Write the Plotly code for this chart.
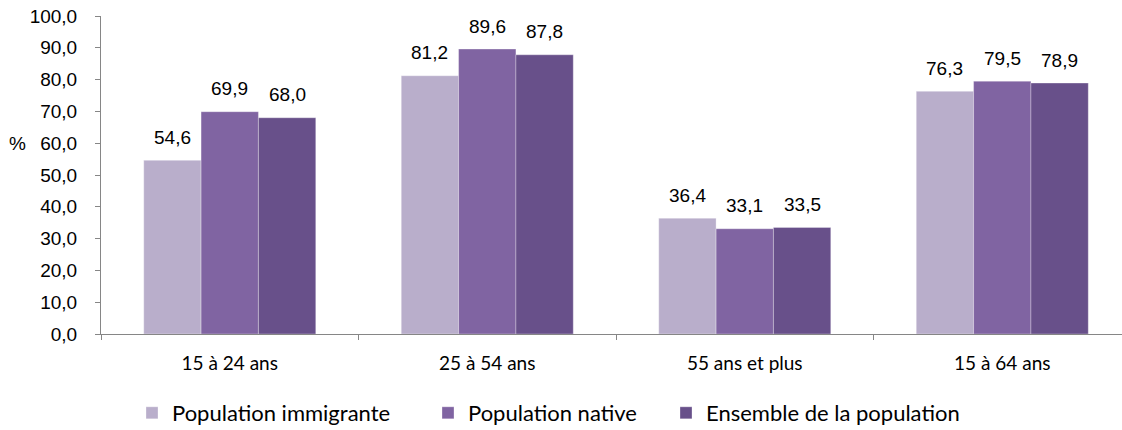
import plotly.graph_objects as go

categories = ["15 à 24 ans", "25 à 54 ans", "55 ans et plus", "15 à 64 ans"]
series_names = ["Population immigrante", "Population native", "Ensemble de la population"]
immigrante = [54.6, 81.2, 36.4, 76.3]
native = [69.9, 89.6, 33.1, 79.5]
ensemble = [68.0, 87.8, 33.5, 78.9]
colors = ["#B9AECB", "#8064A2", "#68508A"]
tick_vals = [0, 10, 20, 30, 40, 50, 60, 70, 80, 90, 100]
tick_text = ["0,0", "10,0", "20,0", "30,0", "40,0", "50,0", "60,0", "70,0", "80,0", "90,0", "100,0"]

W, H = 1122, 430
BARGAP = 0.332
n_series = 3
bar_w = (1 - BARGAP) / n_series
legend_names = ["legend", "legend2", "legend3"]
legend_text_px = [172, 468, 706]  # where each legend label starts

fig = go.Figure()
all_series = [immigrante, native, ensemble]
for k, (name, vals, col) in enumerate(zip(series_names, all_series, colors)):
    fig.add_trace(go.Bar(
        x=categories, y=vals, name=name, legend=legend_names[k],
        marker=dict(color=col, line=dict(color="rgba(255,255,255,0.5)", width=0.6)),
        cliponaxis=False, hoverinfo="skip",
    ))
    off = (k - (n_series - 1) / 2) * bar_w
    for i, v in enumerate(vals):
        fig.add_annotation(
            x=i + off, y=v, xref="x", yref="y",
            text=f"{v:.1f}".replace(".", ","),
            showarrow=False, yanchor="middle", yshift=23,
            font=dict(family="Liberation Sans, Arial", size=19, color="#000"),
        )

legend_style = dict(orientation="h", xref="container", yref="container",
                    xanchor="left", yanchor="middle", y=1 - 413 / H,
                    font=dict(family="Lato, Carlito, Calibri", size=22, color="#000"),
                    itemwidth=30, bgcolor="rgba(0,0,0,0)")
legends = {}
for k, ln in enumerate(legend_names):
    legends[ln] = dict(legend_style, x=(legend_text_px[k] - 40) / W)

fig.update_layout(
    width=W, height=H,
    margin=dict(l=101, r=0, t=16, b=96, autoexpand=False),
    paper_bgcolor="white", plot_bgcolor="white",
    barmode="group", bargap=BARGAP, bargroupgap=0,
    showlegend=True,
    **legends,
)
fig.update_yaxes(
    range=[0, 100], tickvals=tick_vals, ticktext=tick_text, automargin=False,
    showgrid=False, zeroline=False, showline=True, linecolor="#868686", linewidth=1,
    ticks="outside", ticklen=5, tickcolor="#868686", ticklabelstandoff=14,
    tickfont=dict(family="Liberation Sans, Arial", size=19, color="#000"),
)
fig.update_xaxes(
    range=[-0.5, 3.465], automargin=False,
    showline=True, linecolor="#868686", linewidth=1,
    ticks="outside", ticklen=5, tickcolor="#868686", tickson="boundaries",
    ticklabelstandoff=12,
    tickfont=dict(family="Lato, Carlito, Calibri", size=19, color="#000"),
)
fig.add_annotation(text="%", xref="paper", yref="y", x=0, y=60, xshift=-84,
                   xanchor="center", yanchor="middle",
                   showarrow=False, font=dict(family="Liberation Sans, Arial", size=19, color="#000"))

fig.write_html("out.html", config={"displayModeBar": False},
               post_script="document.body.style.margin='0';")
